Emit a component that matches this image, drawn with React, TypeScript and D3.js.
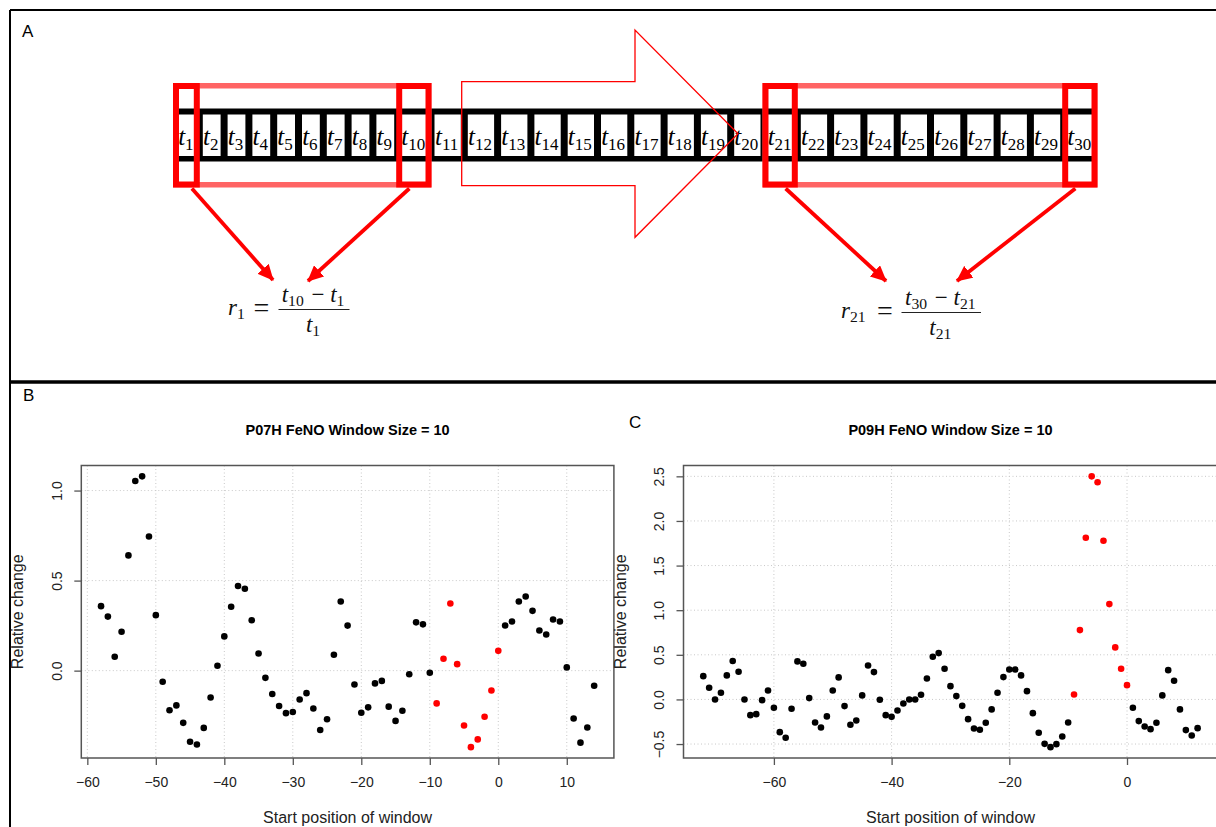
import React, { useEffect, useRef } from 'react';
import * as d3 from 'd3';

// ---- panel A: the breath time series split into cells t1..t30
const cellIndex = [1, 2, 3, 4, 5, 6, 7, 8, 9, 10, 11, 12, 13, 14, 15, 16, 17, 18, 19, 20,
  21, 22, 23, 24, 25, 26, 27, 28, 29, 30];
// first and last window of size 10
const windows = [[1, 10], [21, 30]];

// ---- panel B: P07H, relative change per window start
const p07Start = -58;
const p07Values = [
  0.358, 0.30, 0.077, 0.216, 0.64, 1.053, 1.079, 0.745, 0.308, -0.062,
  -0.22, -0.193, -0.29, -0.395, -0.41, -0.318, -0.149, 0.027, 0.19, 0.355,
  0.47, 0.455, 0.28, 0.095, -0.04, -0.13, -0.196, -0.236, -0.23, -0.16,
  -0.125, -0.21, -0.33, -0.27, 0.088, 0.384, 0.25, -0.077, -0.234, -0.204,
  -0.071, -0.057, -0.2, -0.279, -0.223, -0.02, 0.268, 0.257, -0.012, -0.182,
  0.066, 0.373, 0.036, -0.305, -0.425, -0.382, -0.256, -0.11, 0.11, 0.251,
  0.273, 0.384, 0.412, 0.332, 0.223, 0.201, 0.284, 0.273, 0.018, -0.266,
  -0.4, -0.316, -0.084,
];

// ---- panel C: P09H
const p09Start = -72;
const p09Values = [
  0.261, 0.13, 0.0, 0.074, 0.269, 0.43, 0.31, 0.0, -0.176, -0.165,
  -0.008, 0.1, -0.094, -0.367, -0.43, -0.105, 0.426, 0.40, 0.015, -0.258,
  -0.314, -0.19, 0.1, 0.247, -0.075, -0.284, -0.236, 0.045, 0.381, 0.306,
  -0.004, -0.176, -0.195, -0.124, -0.045, 0.0, 0.0, 0.052, 0.235, 0.478,
  0.519, 0.343, 0.149, 0.037, -0.072, -0.221, -0.325, -0.34, -0.262, -0.112,
  0.074, 0.25, 0.336, 0.336, 0.269, 0.093, -0.154, -0.374, -0.498, -0.535,
  -0.501, -0.415, -0.258, 0.056, 0.777, 1.812, 2.5, 2.433, 1.778, 1.068,
  0.583, 0.343, 0.16, -0.094, -0.243, -0.303, -0.333, -0.262, 0.045, 0.328,
  0.209, -0.112, -0.344, -0.404, -0.322,
];

// windows drawn in red
const flagFrom = -9, flagTo = 0;

const W = 1216, H = 827;
const sans = 'Liberation Sans, Arial, sans-serif';
const serif = 'Liberation Serif, Times New Roman, serif';
const plotTop = 465.5, plotBottom = 758;
const boxColor = '#555';

function drawPanel(node, cfg) {
  const g = d3.select(node);
  g.selectAll('*').remove();

  const pts = cfg.values.map((v, i) => ({ pos: cfg.start + i, v }));
  const expand = ([a, b]) => { const d = (b - a) * 0.04; return [a - d, b + d]; };
  const x = d3.scaleLinear().domain(expand(d3.extent(pts, d => d.pos))).range([cfg.left, cfg.right]);
  const y = d3.scaleLinear().domain(expand(d3.extent(pts, d => d.v))).range([plotBottom, plotTop]);
  const xt = x.ticks(cfg.xTicks), yt = y.ticks(cfg.yTicks);

  // dotted grid
  const grid = g.append('g').attr('stroke', '#c8c8c8').attr('stroke-dasharray', '1,2.5');
  grid.selectAll('.gx').data(xt).join('line')
    .attr('x1', d => x(d)).attr('x2', d => x(d)).attr('y1', plotTop).attr('y2', plotBottom);
  grid.selectAll('.gy').data(yt).join('line')
    .attr('y1', d => y(d)).attr('y2', d => y(d)).attr('x1', cfg.left).attr('x2', cfg.right);

  g.append('g').selectAll('circle').data(pts).join('circle')
    .attr('cx', d => x(d.pos)).attr('cy', d => y(d.v)).attr('r', 3.3)
    .attr('fill', d => (d.pos >= flagFrom && d.pos <= flagTo ? '#f00' : '#000'));

  g.append('rect')
    .attr('x', cfg.left).attr('y', plotTop)
    .attr('width', cfg.right - cfg.left).attr('height', plotBottom - plotTop)
    .attr('fill', 'none').attr('stroke', boxColor).attr('stroke-width', 1.5);

  const ax = g.append('g').attr('transform', `translate(0,${plotBottom})`)
    .call(d3.axisBottom(x).tickValues(xt).tickSize(7).tickSizeOuter(0).tickPadding(12).tickFormat(d3.format('d')));
  ax.select('.domain').remove();
  ax.selectAll('line').attr('stroke', boxColor).attr('stroke-width', 1.3);
  ax.attr('font-size', 14).attr('font-family', sans);
  ax.selectAll('text').attr('fill', '#222');

  const ay = g.append('g').attr('transform', `translate(${cfg.left},0)`)
    .call(d3.axisLeft(y).tickValues(yt).tickSize(7).tickSizeOuter(0).tickFormat(d3.format('.1f')));
  ay.select('.domain').remove();
  ay.selectAll('line').attr('stroke', boxColor).attr('stroke-width', 1.3);
  ay.attr('font-size', 14).attr('font-family', sans);
  ay.selectAll('text').attr('fill', '#222').attr('x', 0).attr('dy', null)
    .attr('text-anchor', 'middle').attr('transform', 'translate(-19.5,0) rotate(-90)');

  const mid = (cfg.left + cfg.right) / 2;
  g.append('text').attr('x', mid).attr('y', 435).attr('text-anchor', 'middle')
    .attr('font-family', sans).attr('font-weight', 'bold').attr('font-size', 14.5).text(cfg.title);
  g.append('text').attr('x', mid).attr('y', 822.5).attr('text-anchor', 'middle')
    .attr('font-family', sans).attr('font-size', 16).attr('fill', '#222').text('Start position of window');
  g.append('text').attr('transform', `translate(${cfg.left - 58},${(plotTop + plotBottom) / 2}) rotate(-90)`)
    .attr('text-anchor', 'middle').attr('font-family', sans).attr('font-size', 16).attr('fill', '#222')
    .text('Relative change');
  g.append('text').attr('x', cfg.letterX).attr('y', cfg.letterY)
    .attr('font-family', sans).attr('font-size', 17).text(cfg.letter);
}

function T({ n, size = 25 }) {
  return (
    <>
      <tspan fontStyle="italic">t</tspan>
      <tspan fontSize={size * 0.68} dy={size * 0.2}>{n}</tspan>
      <tspan dy={-size * 0.2}>{'\u200a'}</tspan>
    </>
  );
}

export default function App() {
  const bRef = useRef(null);
  const cRef = useRef(null);

  useEffect(() => {
    drawPanel(bRef.current, {
      title: 'P07H FeNO Window Size = 10', start: p07Start, values: p07Values,
      left: 81.3, right: 613.9, xTicks: 8, yTicks: 4, letter: 'B', letterX: 23, letterY: 401,
    });
    drawPanel(cRef.current, {
      title: 'P09H FeNO Window Size = 10', start: p09Start, values: p09Values,
      left: 683.5, right: 1217.4, xTicks: 5, yTicks: 6, letter: 'C', letterX: 629, letterY: 428,
    });
  }, []);

  // cell layout: narrower cells for one-digit labels
  const cells = [];
  let cx = 178;
  cellIndex.forEach(n => {
    const w = n < 10 ? 17.8 : 26.3;
    cells.push({ n, x: cx, w });
    cx += w + 7;
  });
  const tapeL = cells[0].x - 3;
  const tapeR = cells[cells.length - 1].x + cells[cells.length - 1].w + 3;
  const tapeY = 108.5, tapeH = 53;
  const byN = n => cells.find(c => c.n === n);

  const boxTop = 83, boxBot = 187.5;
  const sw = 6;

  // formula anchor points (fraction bar centre) and arrow targets
  const formulas = [
    { bar: [278.5, 349.5], barY: 309.5, rx: 228, eqx: 261.5, targets: [[273, 280], [308, 281]] },
    { bar: [901.5, 981], barY: 312.5, rx: 841, eqx: 885, targets: [[886, 281], [957, 281]] },
  ];

  const arrowTip = 738;
  const shaftL = 461.7, shaftT = 81.7, shaftB = 185.7, headX = 635, headT = 30, headB = 237.3;
  const arrowMid = (shaftT + shaftB) / 2;

  return (
    <svg width={W} height={H} style={{ position: 'absolute', left: 0, top: 0, background: '#fff' }}>
      <defs>
        <marker id="ah" markerUnits="userSpaceOnUse" markerWidth="17" markerHeight="15"
          refX="15" refY="7.5" orient="auto">
          <path d="M0,0 L16,7.5 L0,15 z" fill="#f00" />
        </marker>
      </defs>

      {/* frame */}
      <line x1={10} y1={10} x2={W} y2={10} stroke="#000" strokeWidth={2} />
      <line x1={10} y1={10} x2={10} y2={H} stroke="#000" strokeWidth={2} />
      <line x1={10} y1={382} x2={W} y2={382} stroke="#000" strokeWidth={3.5} />
      <text x={22} y={37} fontFamily={sans} fontSize={17}>A</text>

      {/* tape */}
      <rect x={tapeL} y={tapeY} width={tapeR - tapeL} height={tapeH} fill="#000" />
      {cells.map(c => (
        <rect key={'c' + c.n} x={c.x} y={tapeY + 6} width={c.w} height={tapeH - 11.5} fill="#fff" />
      ))}
      {cells.map(c => (
        <text key={'l' + c.n} x={c.x + c.w / 2} y={144.5} textAnchor="middle" fontFamily={serif} fontSize={25}>
          <T n={c.n} />
        </text>
      ))}

      {/* window frames */}
      {windows.map(([a, b]) => {
        const ca = byN(a), cb = byN(b);
        const x0 = ca.x - 5, x1 = cb.x + cb.w + 4;
        return (
          <g key={'w' + a}>
            <rect x={x0 + 2.75} y={boxTop + 2.75} width={x1 - x0 - 5.5} height={boxBot - boxTop - 5.5}
              fill="none" stroke="#ff6464" strokeWidth={5.5} />
            {[ca, cb].map(c => (
              <rect key={c.n} x={c.x - 5 + sw / 2} y={boxTop + sw / 2} width={c.w + 9 - sw}
                height={boxBot - boxTop - sw} fill="none" stroke="#f00" strokeWidth={sw} />
            ))}
          </g>
        );
      })}

      {/* hollow moving arrow */}
      <polygon
        points={[[shaftL, shaftT], [headX, shaftT], [headX, headT], [arrowTip, arrowMid], [headX, headB],
          [headX, shaftB], [shaftL, shaftB]].map(p => p.join(',')).join(' ')}
        fill="none" stroke="#f00" strokeWidth={1.3} />

      {/* arrows to formulas */}
      {windows.map(([a, b], i) => {
        const ca = byN(a), cb = byN(b);
        const src = [ca.x + ca.w / 2 + 5, cb.x + cb.w / 2 - 5];
        return formulas[i].targets.map((t, j) => (
          <line key={'a' + i + j} x1={src[j]} y1={boxBot + 1} x2={t[0]} y2={t[1]}
            stroke="#f00" strokeWidth={3.8} markerEnd="url(#ah)" />
        ));
      })}

      {/* formulas */}
      {windows.map(([a, b], i) => {
        const f = formulas[i];
        const mid = (f.bar[0] + f.bar[1]) / 2;
        const fs = 23;
        return (
          <g key={'f' + i} fontFamily={serif} fill="#111">
            <text x={f.rx} y={f.barY + 5} fontSize={fs}>
              <tspan fontStyle="italic">r</tspan>
              <tspan fontSize={fs * 0.68} dy={4}>{a}</tspan>
            </text>
            <text x={f.eqx} y={f.barY + 7} fontSize={fs + 5} textAnchor="middle">=</text>
            <line x1={f.bar[0]} x2={f.bar[1]} y1={f.barY} y2={f.barY} stroke="#222" strokeWidth={1.2} />
            <text x={mid} y={f.barY - 8} fontSize={fs} textAnchor="middle">
              <T n={b} size={fs} />
              <tspan>{' \u2212 '}</tspan>
              <T n={a} size={fs} />
            </text>
            <text x={mid} y={f.barY + 22} fontSize={fs} textAnchor="middle">
              <T n={a} size={fs} />
            </text>
          </g>
        );
      })}

      <g ref={bRef} />
      <g ref={cRef} />
    </svg>
  );
}
